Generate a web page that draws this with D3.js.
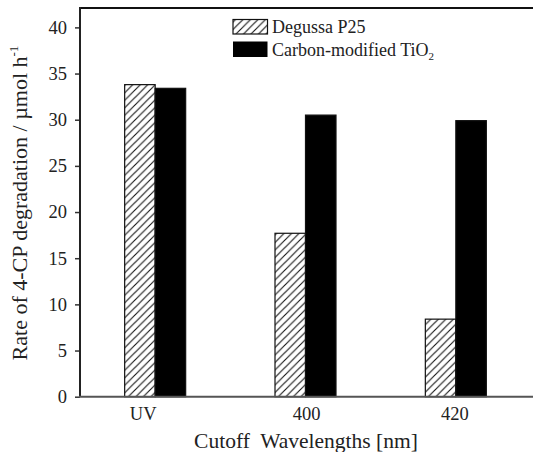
<!DOCTYPE html>
<html>
<head>
<meta charset="utf-8">
<script src="https://cdn.jsdelivr.net/npm/d3@7"></script>
<style>
  html, body { margin: 0; padding: 0; background: #fff; }
</style>
</head>
<body>
<svg id="chart" width="533" height="452" font-family="Times New Roman"></svg>
<script>
// Cutoff wavelengths and photocatalytic 4-CP degradation rates (µmol h⁻¹)
const categories = ["UV", "400", "420"];
const seriesNames = ["Degussa P25", "Carbon-modified TiO2"];
const p25Values = [33.8, 17.7, 8.4];
const carbonTiO2Values = [33.4, 30.5, 29.9];
const yTicks = [0, 5, 10, 15, 20, 25, 30, 35, 40];

const FONT = "'Times New Roman'";
const svg = d3.select("#chart");
const W = 533, H = 452;
const margin = { left: 80, top: 8, right: 2, bottom: 56 };
const plotBottom = H - margin.bottom + 0.7;

const x = d3.scaleBand().domain(categories).range([margin.left, 531]).paddingInner(0).paddingOuter(0);
const y = d3.scaleLinear().domain([0, 42.1]).range([plotBottom, margin.top]);

// Diagonal hatch fill for the P25 bars
const defs = svg.append("defs");
const pat = defs.append("pattern")
  .attr("id", "hatch")
  .attr("patternUnits", "userSpaceOnUse")
  .attr("width", 7.5).attr("height", 7.5);
pat.append("rect").attr("width", 7.5).attr("height", 7.5).attr("fill", "#fff");
pat.append("path")
  .attr("d", "M-1,1 L1,-1 M0,7.5 L7.5,0 M6.5,8.5 L8.5,6.5")
  .attr("stroke", "#111").attr("stroke-width", 1.1);

const barW = 30.5;
const data = categories.map((c, i) => ({ c, p25: p25Values[i], cm: carbonTiO2Values[i] }));

const groups = svg.append("g").selectAll("g").data(data).join("g");
groups.append("rect")
  .attr("x", d => x(d.c) + x.bandwidth() / 2 - barW)
  .attr("y", d => y(d.p25))
  .attr("width", barW)
  .attr("height", d => y(0) - y(d.p25))
  .attr("fill", "url(#hatch)")
  .attr("stroke", "#111").attr("stroke-width", 1.2);
groups.append("rect")
  .attr("x", d => x(d.c) + x.bandwidth() / 2)
  .attr("y", d => y(d.cm))
  .attr("width", barW)
  .attr("height", d => y(0) - y(d.cm))
  .attr("fill", "#000")
  .attr("stroke", "#111").attr("stroke-width", 1.2);

// Frame: top line, left axis and bottom axis
svg.append("line")
  .attr("x1", margin.left).attr("x2", W)
  .attr("y1", margin.top).attr("y2", margin.top)
  .attr("stroke", "#111").attr("stroke-width", 2);

const yAxis = svg.append("g")
  .attr("transform", `translate(${margin.left},0)`)
  .call(d3.axisLeft(y).tickValues(yTicks).tickSize(5).tickPadding(8).tickFormat(d3.format("d")));
yAxis.attr("font-family", "Times New Roman");
yAxis.select(".domain").remove();
yAxis.selectAll(".tick line").attr("stroke", "#333").attr("stroke-width", 1.5);
yAxis.selectAll(".tick text")
  .style("font-family", FONT)
  .attr("font-size", 18.5).attr("fill", "#222");

svg.append("line")
  .attr("x1", margin.left).attr("x2", margin.left)
  .attr("y1", margin.top - 1).attr("y2", plotBottom)
  .attr("stroke", "#222").attr("stroke-width", 2);
svg.append("line")
  .attr("x1", margin.left - 1).attr("x2", W)
  .attr("y1", plotBottom).attr("y2", plotBottom)
  .attr("stroke", "#555").attr("stroke-width", 2);

// Category labels
const labelShift = { UV: -12, "400": 1, "420": -1 };
svg.append("g").selectAll("text").data(categories).join("text")
  .attr("x", d => x(d) + x.bandwidth() / 2 + labelShift[d])
  .attr("y", 420)
  .attr("text-anchor", "middle")
  .style("font-family", FONT)
  .attr("font-size", 18.5).attr("fill", "#222")
  .text(d => d);

// Axis titles
svg.append("text")
  .attr("x", 306).attr("y", 448)
  .attr("text-anchor", "middle")
  .style("font-family", FONT)
  .attr("font-size", 21.5).attr("fill", "#222")
  .attr("xml:space", "preserve")
  .text("Cutoff  Wavelengths [nm]");

const yl = svg.append("text")
  .attr("transform", "translate(27,203) rotate(-90)")
  .attr("text-anchor", "middle")
  .style("font-family", FONT)
  .attr("font-size", 22).attr("fill", "#222");
yl.append("tspan").text("Rate of 4-CP degradation / µmol h");
yl.append("tspan").attr("font-size", 13).attr("dy", -9).text("-1");

// Legend
const legend = svg.append("g");
legend.append("rect")
  .attr("x", 233).attr("y", 19.5).attr("width", 34.5).attr("height", 14.5)
  .attr("fill", "url(#hatch)").attr("stroke", "#111").attr("stroke-width", 1.2);
legend.append("rect")
  .attr("x", 233).attr("y", 41.5).attr("width", 34.5).attr("height", 15.5)
  .attr("fill", "#000");
legend.append("text")
  .attr("x", 272).attr("y", 33)
  .style("font-family", FONT)
  .attr("font-size", 18).attr("fill", "#222")
  .text(seriesNames[0]);
const lt = legend.append("text")
  .attr("x", 272).attr("y", 56)
  .style("font-family", FONT)
  .attr("font-size", 18).attr("fill", "#222");
lt.append("tspan").text("Carbon-modified TiO");
lt.append("tspan").attr("font-size", 11).attr("dy", 4).text("2");
</script>
</body>
</html>
